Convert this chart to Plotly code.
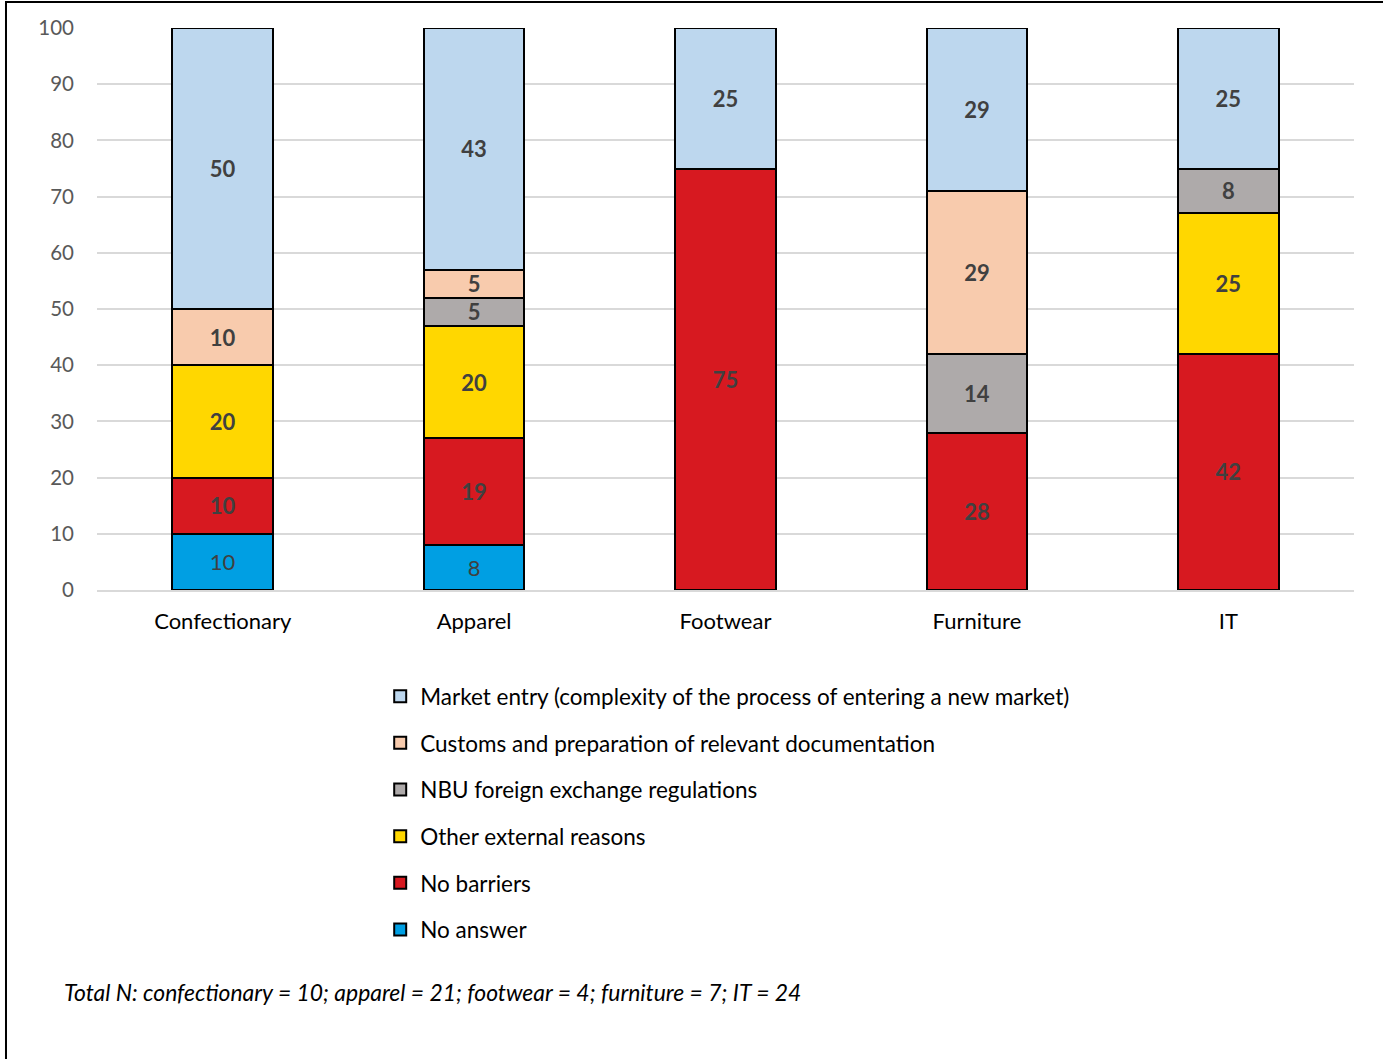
import plotly.graph_objects as go

# Sectors and barrier shares (% of respondents)
categories = ["Confectionary", "Apparel", "Footwear", "Furniture", "IT"]

no_answer = [10, 8, 0, 0, 0]
no_barriers = [10, 19, 75, 28, 42]
other_external = [20, 20, 0, 0, 25]
nbu_regulations = [0, 5, 0, 14, 8]
customs = [10, 5, 0, 29, 0]
market_entry = [50, 43, 25, 29, 25]

y_ticks = [0, 10, 20, 30, 40, 50, 60, 70, 80, 90, 100]

footnote = "Total N: confectionary = 10; apparel = 21; footwear = 4; furniture = 7; IT = 24"

FONT = "Lato"

# stacking order: bottom to top
series = [
    ("No answer", no_answer, "#009FE3", False),
    ("No barriers", no_barriers, "#D71920", True),
    ("Other external reasons", other_external, "#FFD700", True),
    ("NBU foreign exchange regulations", nbu_regulations, "#AEAAAA", True),
    ("Customs and preparation of relevant documentation", customs, "#F8CBAD", True),
    ("Market entry (complexity of the process of entering a new market)", market_entry, "#BDD7EE", True),
]

fig = go.Figure()
n = len(series)
for i, (name, vals, color, bold) in enumerate(series):
    labels = [(f"<b>{v}</b>" if bold else str(v)) if v else "" for v in vals]
    fig.add_trace(go.Bar(
        name=name,
        x=categories,
        y=vals,
        text=labels,
        texttemplate="%{text}",
        textposition="inside",
        insidetextanchor="middle",
        textangle=0,
        constraintext="none",
        insidetextfont=dict(family=FONT, size=22, color="#404040"),
        marker=dict(color=color, line=dict(color="#000000", width=2)),
        legendgroup=f"g{i}",
        legendrank=n - i,
        hoverinfo="skip",
    ))

fig.update_layout(
    barmode="stack",
    bargap=0.6,
    width=1383,
    height=1059,
    margin=dict(l=97, r=29, t=28, b=469),
    paper_bgcolor="white",
    plot_bgcolor="white",
    font=dict(family=FONT, size=20, color="#000000"),
    xaxis=dict(
        showgrid=False,
        showline=True,
        linecolor="#D9D9D9",
        linewidth=2,
        ticks="",
        tickfont=dict(family=FONT, size=22, color="#000000"),
        ticklabelstandoff=11,
    ),
    yaxis=dict(
        range=[0, 100],
        tickvals=y_ticks,
        showgrid=True,
        gridcolor="#D9D9D9",
        gridwidth=2,
        zeroline=False,
        showline=False,
        ticks="",
        tickfont=dict(family=FONT, size=20.5, color="#595959"),
        ticklabelstandoff=22,
    ),
    legend=dict(
        orientation="v",
        traceorder="grouped",
        tracegroupgap=14.4,
        itemwidth=30,
        x=0.2253,
        xanchor="left",
        y=-0.1514,
        yanchor="top",
        font=dict(family=FONT, size=22.5, color="#000000"),
        itemclick=False,
        itemdoubleclick=False,
        bgcolor="rgba(0,0,0,0)",
    ),
    showlegend=True,
)

fig.add_annotation(
    text=f"<i>{footnote}</i>",
    xref="paper", yref="paper",
    x=-0.0281, y=-0.715,
    xanchor="left", yanchor="middle",
    showarrow=False,
    font=dict(family=FONT, size=22.9, color="#000000"),
)

# chart frame
fig.add_shape(
    type="rect",
    xref="paper", yref="paper",
    x0=-0.0724, x1=1.03, y0=-0.85, y1=1.0463,
    line=dict(color="#000000", width=2),
    fillcolor="rgba(0,0,0,0)",
    layer="above",
)

fig.write_html("out.html")
